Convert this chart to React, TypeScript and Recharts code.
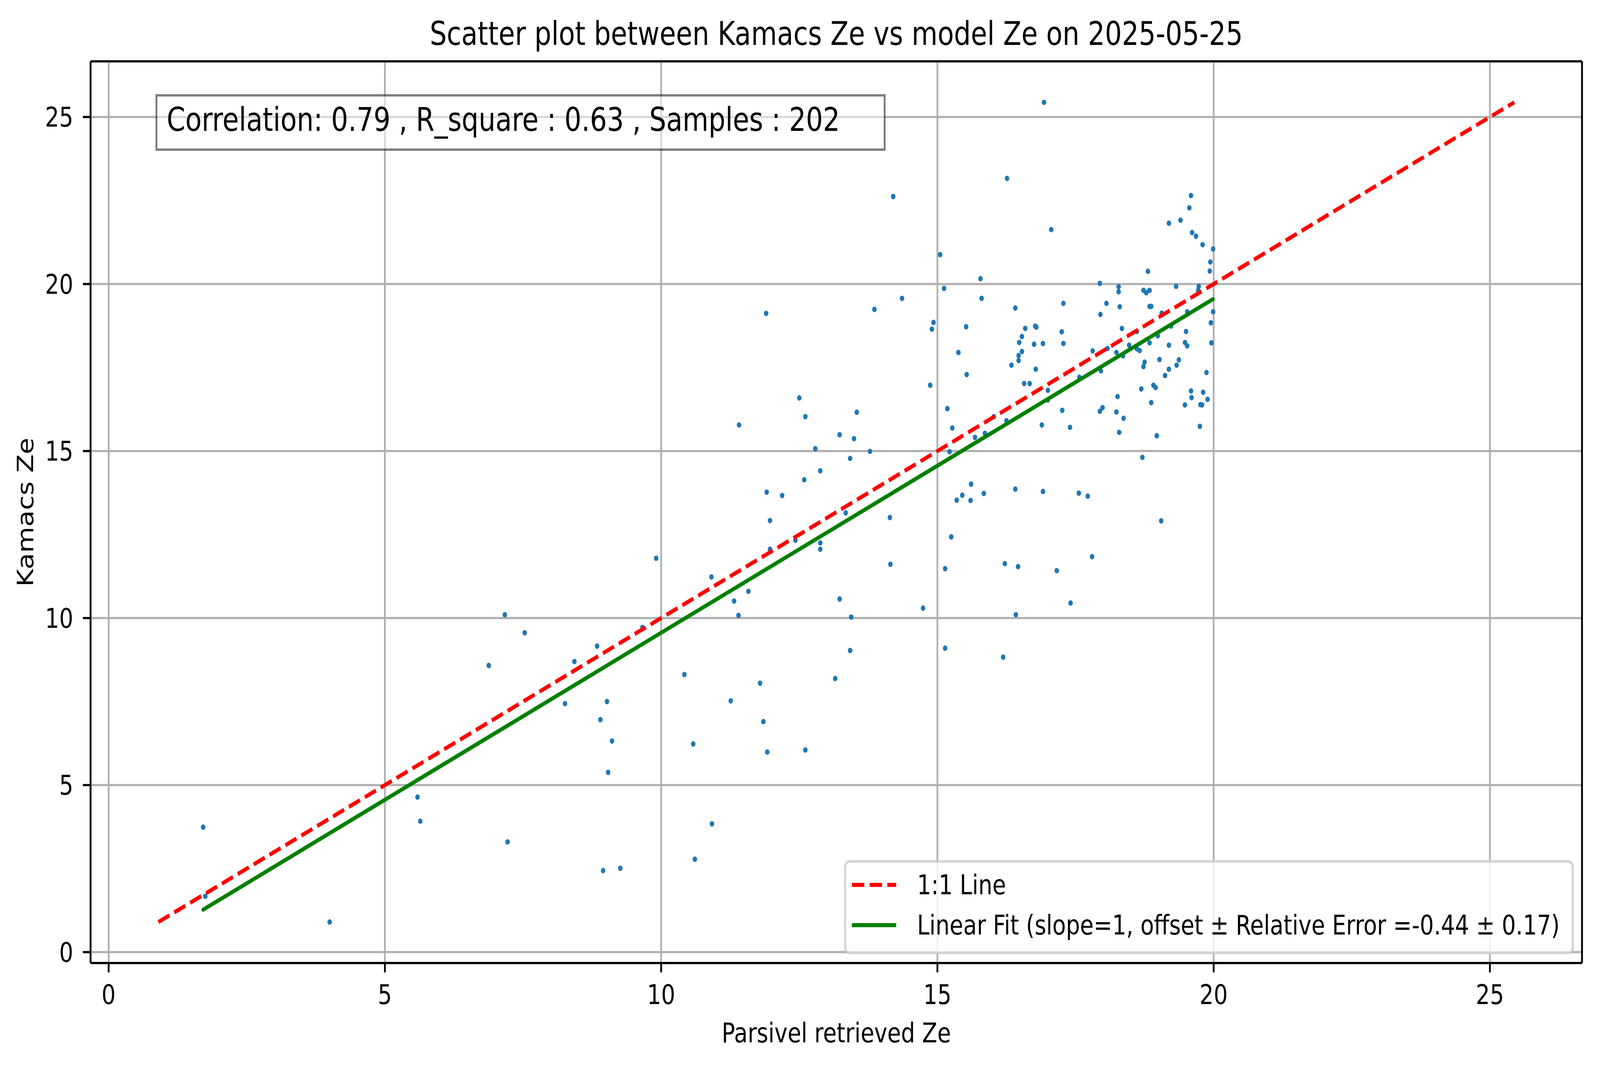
import React from 'react';
import { ScatterChart, Scatter, XAxis, YAxis, CartesianGrid, ReferenceLine, Label } from 'recharts';

// Parsivel retrieved Ze (x) and Kamacs Ze (y)
const parsivelZe = [
  1.71, 1.75, 4.0, 5.59, 5.64, 7.22, 7.17, 7.53, 6.88, 8.43,
  8.84, 8.26, 9.02, 8.9, 9.11, 9.04, 8.95, 9.26, 9.66, 13.23,
  13.49, 12.79, 13.78, 13.42, 12.88, 12.59, 11.91, 12.19, 11.97, 13.34,
  14.14, 12.43, 12.88, 12.88, 11.97, 14.15, 15.14, 9.91, 10.91, 11.58,
  11.32, 11.4, 13.23, 14.74, 13.44, 13.42, 15.14, 10.42, 11.26, 11.79,
  11.85, 10.58, 11.92, 12.61, 13.15, 10.92, 10.61, 14.2, 15.05, 15.12,
  11.9, 13.86, 14.36, 14.93, 14.9, 14.87, 15.18, 12.5, 12.61, 11.41,
  13.54, 16.93, 16.26, 17.06, 15.78, 15.8, 15.52, 15.38, 15.53, 15.27,
  15.22, 15.68, 15.86, 16.02, 16.25, 16.34, 16.41, 16.47, 16.47, 16.53,
  16.48, 16.53, 16.59, 16.77, 16.79, 16.75, 16.91, 16.78, 16.57, 16.67,
  17.0, 17.0, 16.89, 17.28, 17.25, 17.28, 17.26, 17.4, 19.59, 19.56,
  19.19, 19.4, 19.61, 19.68, 19.8, 19.99, 19.94, 19.93, 18.81, 17.94,
  18.28, 18.28, 18.73, 18.78, 18.84, 19.32, 19.73, 19.72, 18.06, 18.3,
  17.95, 18.84, 18.87, 19.06, 19.52, 19.99, 19.95, 18.34, 18.61, 19.23,
  19.5, 17.81, 18.08, 18.24, 18.36, 18.47, 18.61, 18.66, 18.84, 18.99,
  19.19, 19.48, 19.52, 19.96, 17.57, 17.96, 18.75, 18.73, 19.02, 19.37,
  19.33, 19.19, 19.12, 19.87, 18.91, 18.95, 18.69, 18.26, 19.59, 19.6,
  19.81, 19.89, 19.48, 19.76, 19.79, 18.87, 17.94, 17.99, 18.24, 18.37,
  18.29, 18.97, 19.75, 18.71, 15.61, 15.45, 15.35, 15.6, 15.84, 16.41,
  16.91, 17.56, 15.25, 16.22, 16.46, 17.16, 17.41, 16.42, 16.19, 17.72,
  19.05, 17.8,
];

const kamacsZe = [
  3.74, 1.67, 0.9, 4.64, 3.92, 3.3, 10.1, 9.56, 8.58, 8.7,
  9.16, 7.44, 7.5, 6.96, 6.32, 5.38, 2.44, 2.51, 9.72, 15.49,
  15.37, 15.07, 14.99, 14.78, 14.41, 14.14, 13.77, 13.67, 12.92, 13.15,
  13.01, 12.33, 12.25, 12.06, 12.06, 11.61, 11.48, 11.79, 11.23, 10.8,
  10.51, 10.08, 10.57, 10.3, 10.03, 9.03, 9.1, 8.31, 7.52, 8.05,
  6.9, 6.23, 5.99, 6.05, 8.19, 3.84, 2.78, 22.62, 20.88, 19.87,
  19.12, 19.24, 19.57, 18.85, 18.65, 16.97, 16.27, 16.59, 16.03, 15.78,
  16.16, 25.44, 23.16, 21.63, 20.16, 19.57, 18.72, 17.95, 17.29, 15.69,
  14.98, 15.41, 15.53, 16.03, 15.91, 17.57, 19.28, 17.71, 17.86, 17.98,
  18.25, 18.43, 18.67, 18.74, 18.71, 18.2, 18.22, 17.45, 17.02, 17.02,
  16.82, 16.53, 15.78, 19.42, 18.57, 18.22, 16.22, 15.71, 22.65, 22.28,
  21.82, 21.91, 21.54, 21.43, 21.18, 21.05, 20.66, 20.39, 20.38, 20.02,
  19.92, 19.77, 19.81, 19.74, 19.81, 19.93, 19.93, 19.81, 19.42, 19.32,
  19.09, 19.33, 19.33, 19.13, 19.17, 19.17, 18.84, 18.67, 18.58, 18.74,
  18.58, 18.0, 18.07, 17.95, 17.85, 18.17, 18.06, 18.01, 18.24, 18.45,
  18.17, 18.25, 18.15, 18.24, 17.21, 17.4, 17.66, 17.53, 17.74, 17.73,
  17.57, 17.45, 17.26, 17.35, 16.97, 16.9, 16.86, 16.63, 16.8, 16.6,
  16.76, 16.55, 16.38, 16.39, 16.38, 16.45, 16.19, 16.3, 16.17, 15.98,
  15.56, 15.46, 15.74, 14.81, 14.01, 13.68, 13.53, 13.52, 13.73, 13.86,
  13.79, 13.74, 12.43, 11.63, 11.54, 11.42, 10.45, 10.1, 8.83, 13.65,
  12.91, 11.84,
];

const axisTicks = [0, 5, 10, 15, 20, 25];
const fitOffset = -0.44;
const legendLabels = ['1:1 Line', 'Linear Fit (slope=1, offset ± Relative Error =-0.44 ± 0.17)'];
const titleText = 'Scatter plot between Kamacs Ze vs model Ze on 2025-05-25';
const statsText = 'Correlation: 0.79 , R_square : 0.63 , Samples : 202';
const xLabel = 'Parsivel retrieved Ze';
const yLabel = 'Kamacs Ze';

// design size = reference image size in px
const W = 4981;
const H = 2726;
const FONT = '"DejaVu Sans", sans-serif';

// plot box (px)
const PLOT_LEFT = 282;
const PLOT_TOP = 157;
const PLOT_RIGHT = 4925;
const PLOT_BOTTOM = 2465;

const points = parsivelZe.map((x, i) => ({ x, y: kamacsZe[i] }));

// matplotlib-like autoscale with 5% margins over everything drawn
const lo = Math.min(...parsivelZe, ...kamacsZe);
const hi = Math.max(...parsivelZe, ...kamacsZe);
const pad = (hi - lo) * 0.05;
const domain: [number, number] = [lo - pad, hi + pad];

const oneToOne = [{ x: lo, y: lo }, { x: hi, y: hi }];
const xMin = Math.min(...parsivelZe);
const xMax = Math.max(...parsivelZe);
const fitLine = [{ x: xMin, y: xMin + fitOffset }, { x: xMax, y: xMax + fitOffset }];

const Dot = (p: any) => <circle cx={p.cx} cy={p.cy} r={7} fill="#1f77b4" />;
const NoDot = () => <g />;

const tickStyle = { fontSize: 69, fill: '#000', fontFamily: FONT };
const lineStyle = { stroke: '#000', strokeWidth: 5.6 };

const App: React.FC = () => {
  // the real viewport can differ from the design size, so stretch the design to fill it
  const vw = typeof window !== 'undefined' && window.innerWidth ? window.innerWidth : W;
  const vh = typeof window !== 'undefined' && window.innerHeight ? window.innerHeight : H;
  const sx = vw / W;
  const sy = vh / H;

  return (
    <div style={{ width: vw, height: vh, overflow: 'hidden', background: '#fff' }}>
      <style>{'html,body{margin:0;padding:0;overflow:hidden;background:#fff}'}</style>
      <div
        style={{
          position: 'relative',
          width: W,
          height: H,
          transform: `scale(${sx}, ${sy})`,
          transformOrigin: '0 0',
        }}
      >
        <ScatterChart
          width={W}
          height={H}
          margin={{ top: PLOT_TOP, right: W - PLOT_RIGHT, bottom: 0, left: 0 }}
        >
          <CartesianGrid stroke="#b0b0b0" strokeWidth={5.6} />
          <XAxis
            type="number"
            dataKey="x"
            domain={domain}
            ticks={axisTicks}
            interval={0}
            allowDataOverflow
            height={H - PLOT_BOTTOM}
            tickSize={24}
            tickMargin={32}
            tick={tickStyle}
            tickLine={lineStyle}
            axisLine={lineStyle}
          >
            <Label
              content={(props: any) => {
                const vb = props.viewBox;
                return (
                  <text x={vb.x + vb.width / 2} y={vb.y + 203} textAnchor="middle" fontSize={69} fontFamily={FONT} fill="#000">
                    {xLabel}
                  </text>
                );
              }}
            />
          </XAxis>
          <YAxis
            type="number"
            dataKey="y"
            domain={domain}
            ticks={axisTicks}
            interval={0}
            allowDataOverflow
            width={PLOT_LEFT}
            tickSize={24}
            tickMargin={30}
            tick={tickStyle}
            tickLine={lineStyle}
            axisLine={lineStyle}
          >
            <Label
              content={(props: any) => {
                const vb = props.viewBox;
                const cx = vb.x + 103;
                const cy = vb.y + vb.height / 2;
                return (
                  <text x={cx} y={cy} transform={`rotate(-90, ${cx}, ${cy})`} textAnchor="middle" fontSize={69} fontFamily={FONT} fill="#000">
                    {yLabel}
                  </text>
                );
              }}
            />
          </YAxis>
          <ReferenceLine y={domain[1]} stroke="#000" strokeWidth={5.6} ifOverflow="visible" />
          <ReferenceLine x={domain[1]} stroke="#000" strokeWidth={5.6} ifOverflow="visible" />
          <Scatter data={points} fill="#1f77b4" shape={Dot} isAnimationActive={false} />
          <Scatter
            data={oneToOne}
            fill="red"
            shape={NoDot}
            line={{ stroke: 'red', strokeWidth: 10.4, strokeDasharray: '38.5 16.7' }}
            lineType="joint"
            isAnimationActive={false}
          />
          <Scatter
            data={fitLine}
            fill="green"
            shape={NoDot}
            line={{ stroke: 'green', strokeWidth: 10.4, strokeLinecap: 'round' }}
            lineType="joint"
            isAnimationActive={false}
          />
        </ScatterChart>

        <svg
          width={W}
          height={H}
          style={{ position: 'absolute', left: 0, top: 0, pointerEvents: 'none' }}
          fontFamily={FONT}
        >
          <text x={(PLOT_LEFT + PLOT_RIGHT) / 2} y={115} textAnchor="middle" fontSize={83} fill="#000">
            {titleText}
          </text>

          <rect x={487} y={244} width={2267} height={139} fill="#fff" fillOpacity={0.5} stroke="#000" strokeOpacity={0.5} strokeWidth={6} />
          <text x={519} y={335} fontSize={83} fill="#000">{statsText}</text>

          <rect x={2631} y={2205} width={2265} height={234} rx={14} fill="#fff" fillOpacity={0.8} stroke="#cccccc" strokeOpacity={0.8} strokeWidth={7} />
          <line x1={2652} x2={2790} y1={2265} y2={2265} stroke="red" strokeWidth={10.4} strokeDasharray="38.5 16.7" />
          <text x={2855} y={2289} fontSize={69} fill="#000">{legendLabels[0]}</text>
          <line x1={2652} x2={2790} y1={2368} y2={2368} stroke="green" strokeWidth={10.4} />
          <text x={2855} y={2392} fontSize={69} fill="#000">{legendLabels[1]}</text>
        </svg>
      </div>
    </div>
  );
};

export default App;
